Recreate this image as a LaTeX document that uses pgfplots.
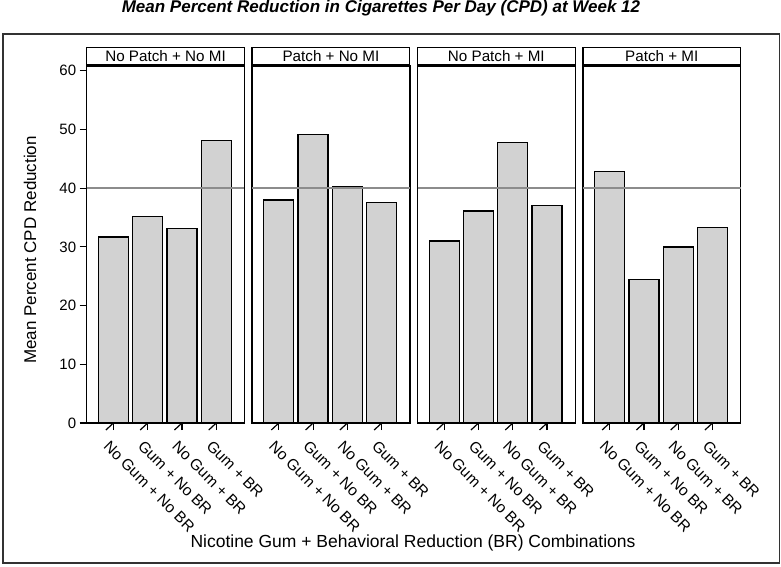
\documentclass[border=0pt]{standalone}
\usepackage{fontspec}
\setmainfont{Liberation Sans}
\usepackage{pgfplots}
\pgfplotsset{compat=1.18}
\usepackage{pgfplotstable}
\definecolor{barfill}{RGB}{210,210,210}
\definecolor{refline}{RGB}{140,140,140}
\definecolor{framec}{RGB}{50,50,50}

\pgfplotstableread{
x y
1 31.7
2 35.2
3 33.1
4 48.1
}\dataA
\pgfplotstableread{
x y
1 38.0
2 49.1
3 40.2
4 37.6
}\dataB
\pgfplotstableread{
x y
1 31.0
2 36.1
3 47.8
4 37.0
}\dataC
\pgfplotstableread{
x y
1 42.8
2 24.4
3 30.0
4 33.3
}\dataD

\pgfplotsset{
  panel/.style={
    scale only axis,
    width=157.7pt, height=357pt,
    anchor=south west,
    xmin=0.22, xmax=4.82,
    ymin=0, ymax=60.8,
    axis line style={line width=1.4pt, black},
    tick style={line width=1.2pt, black},
    xtick style={draw=black, line width=1.2pt},
    tick align=outside,
    major tick length=7pt,
    xtick={1,2,3,4},
    xticklabels={No Gum + No BR, Gum + No BR, No Gum + BR, Gum + BR},
    xtick pos=bottom,
    ytick pos=left,
    xticklabel style={xshift=-3pt, yshift=-8pt, rotate=-45, anchor=north west, font=\fontsize{15.5}{18}\selectfont, inner sep=1pt},
    yticklabel style={font=\fontsize{15}{18}\selectfont},
    /pgf/number format/assume math mode=true,
    clip=false,
  },
  bars/.style={ybar, bar width=0.875, fill=barfill, draw=black, line width=1.3pt, bar shift=0pt},
  ref/.style={refline, line width=1.3pt, forget plot},
  xt/.code={\draw[black, line width=1.2pt] (axis cs:1,0) -- ++(0,-7pt) (axis cs:2,0) -- ++(0,-7pt) (axis cs:3,0) -- ++(0,-7pt) (axis cs:4,0) -- ++(0,-7pt);},
}

\begin{document}
\begin{tikzpicture}
\useasboundingbox (0pt,0pt) rectangle (781pt,566pt);
\draw[framec, line width=1.6pt] (3pt,3.3pt) rectangle (779.3pt,532pt);
\node[font=\fontsize{17}{20}\selectfont\bfseries\itshape] at (381pt,558pt) {Mean Percent Reduction in Cigarettes Per Day (CPD) at Week 12};

\begin{axis}[panel, at={(86.7pt,143pt)}, ytick={0,10,...,60}]
\addplot[bars] table[x=x,y=y] {\dataA};
\addplot[ref] coordinates {(0.22,40) (4.82,40)};
\pgfplotsset{xt}
\end{axis}
\begin{axis}[panel, at={(252.1pt,143pt)}, ytick=\empty]
\addplot[bars] table[x=x,y=y] {\dataB};
\addplot[ref] coordinates {(0.22,40) (4.82,40)};
\pgfplotsset{xt}
\end{axis}
\begin{axis}[panel, at={(417.5pt,143pt)}, ytick=\empty]
\addplot[bars] table[x=x,y=y] {\dataC};
\addplot[ref] coordinates {(0.22,40) (4.82,40)};
\pgfplotsset{xt}
\end{axis}
\begin{axis}[panel, at={(582.9pt,143pt)}, ytick=\empty]
\addplot[bars] table[x=x,y=y] {\dataD};
\addplot[ref] coordinates {(0.22,40) (4.82,40)};
\pgfplotsset{xt}
\end{axis}

\foreach \L/\T in {86.7/{No Patch + No MI}, 252.1/{Patch + No MI}, 417.5/{No Patch + MI}, 582.9/{Patch + MI}}{
  \draw[black, line width=1.3pt] (\L pt,500pt) rectangle ++(157.7pt,18.7pt);
  \draw[black, line width=3pt] (\L pt,500pt) -- ++(157.7pt,0);
  \node[font=\fontsize{15.2}{18}\selectfont] at ({\L pt+78.85pt},509.8pt) {\T};
}

\node[rotate=90, font=\fontsize{17}{20}\selectfont] at (30pt,316pt) {Mean Percent CPD Reduction};
\node[font=\fontsize{17.5}{20}\selectfont] at (413pt,23.5pt) {Nicotine Gum + Behavioral Reduction (BR) Combinations};
\end{tikzpicture}
\end{document}
